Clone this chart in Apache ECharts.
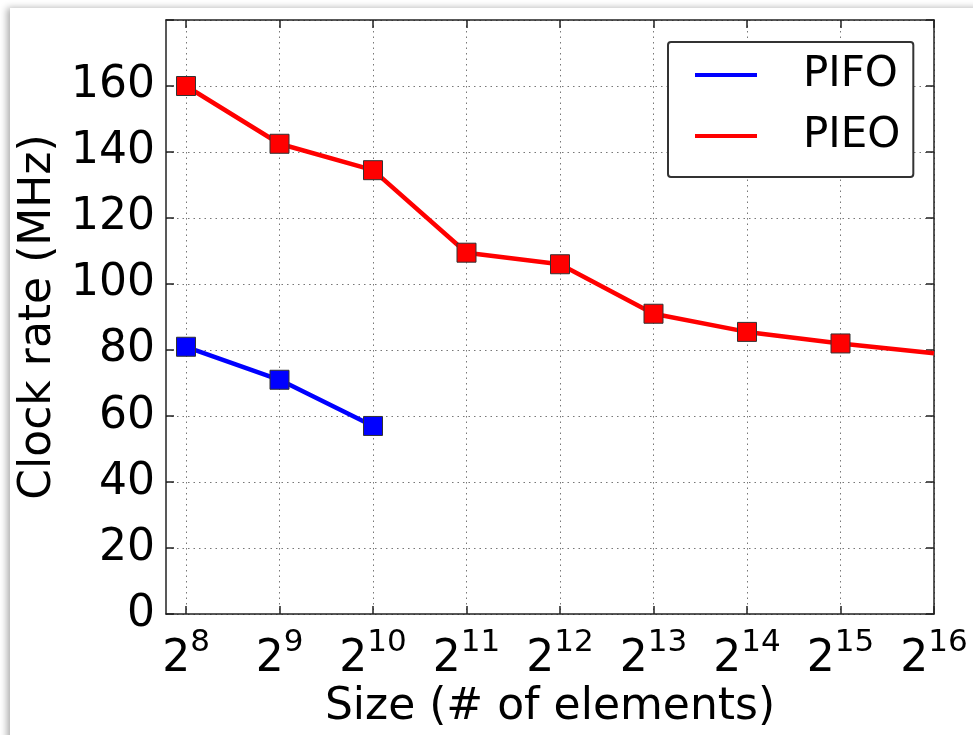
<!DOCTYPE html>
<html>
<head>
<meta charset="utf-8">
<script src="https://cdn.jsdelivr.net/npm/echarts@6/dist/echarts.min.js"></script>
<style>
  html, body { margin: 0; padding: 0; background: #ffffff; width: 973px; height: 735px; overflow: hidden; }
  #card { position: absolute; left: 10px; top: 8px; width: 1100px; height: 900px; background: #ffffff;
          box-shadow: -3px 0px 7px rgba(0,0,0,0.32); }
  #main { position: absolute; left: 0; top: 0; width: 973px; height: 735px; }
</style>
</head>
<body>
<div id="card"></div>
<div id="main"></div>
<script>
// ---- data ----
const exponents = [8, 9, 10, 11, 12, 13, 14, 15, 16];   // x = log2(size)
const pifoValues = [81, 71, 57];                          // PIFO clock rate (MHz) at 2^8..2^10
const pieoValues = [160, 142.5, 134.5, 109.5, 106, 91, 85.5, 82, 79]; // PIEO at 2^8..2^16
const yTicks = [0, 20, 40, 60, 80, 100, 120, 140, 160];
const seriesNames = ['PIFO', 'PIEO'];

const FONT = 'DejaVu Sans';
const pifoData = pifoValues.map((v, i) => [exponents[i], v]);
const pieoData = pieoValues.map((v, i) => {
  const item = { value: [exponents[i], v] };
  if (exponents[i] === 16) item.symbol = 'none';   // point lies on the frame, marker not shown
  return item;
});

const chart = echarts.init(document.getElementById('main'), null, { renderer: 'canvas' });
const frame = '#222222';
const option = {
  animation: false,
  textStyle: { fontFamily: FONT },
  grid: { left: 166, right: 39, top: 20, bottom: 120, containLabel: false },
  legend: {
    orient: 'vertical',
    left: 668, top: 42,
    padding: [8, 13, 16, 27],
    itemGap: 11,
    itemWidth: 62, itemHeight: 4,
    icon: 'rect',
    itemStyle: { borderWidth: 0 },
    backgroundColor: '#ffffff',
    borderColor: '#333333', borderWidth: 2, borderRadius: 3,
    selectedMode: false,
    textStyle: { fontFamily: FONT, fontSize: 42, color: '#000', lineHeight: 50, padding: [0, 0, 0, 41] },
    data: seriesNames
  },
  xAxis: [{
    type: 'value', min: 7.786, max: 16,
    name: 'Size (# of elements)', nameLocation: 'middle', nameGap: 67,
    nameTextStyle: { fontFamily: FONT, fontSize: 44, color: '#000' },
    axisLine: { show: true, onZero: false, lineStyle: { color: frame, width: 1.5 } },
    axisTick: { show: true, inside: true, length: 8, customValues: exponents, lineStyle: { color: frame, width: 1.5 } },
    axisLabel: {
      show: true, margin: 13, customValues: exponents,
      formatter: function (v) { return '{b|2}{s|' + Math.round(v) + '}'; },
      rich: {
        b: { fontFamily: FONT, fontSize: 44, lineHeight: 54, color: '#000', verticalAlign: 'bottom' },
        s: { fontFamily: FONT, fontSize: 31, lineHeight: 20, color: '#000', verticalAlign: 'top' }
      }
    },
    splitLine: { show: true, lineStyle: { color: '#777', width: 1, type: [1.5, 4] } }
  }, {
    type: 'value', min: 7.786, max: 16, position: 'top',
    axisLine: { show: true, onZero: false, lineStyle: { color: frame, width: 1.5 } },
    axisTick: { show: true, inside: true, length: 8, customValues: exponents, lineStyle: { color: frame, width: 1.5 } },
    axisLabel: { show: false },
    splitLine: { show: false }
  }],
  yAxis: [{
    type: 'value', min: 0, max: 180, interval: 20,
    name: 'Clock rate (MHz)', nameLocation: 'middle', nameGap: 96,
    nameTextStyle: { fontFamily: FONT, fontSize: 44, color: '#000' },
    axisLine: { show: true, onZero: false, lineStyle: { color: frame, width: 1.5 } },
    axisTick: { show: true, inside: true, length: 8, lineStyle: { color: frame, width: 1.5 } },
    axisLabel: {
      show: true, margin: 11, fontFamily: FONT, fontSize: 44, color: '#000',
      formatter: function (v) { return yTicks.indexOf(v) >= 0 ? String(v) : ''; }
    },
    splitLine: { show: true, lineStyle: { color: '#777', width: 1, type: [1.5, 4] } }
  }, {
    type: 'value', min: 0, max: 180, interval: 20, position: 'right',
    axisLine: { show: true, onZero: false, lineStyle: { color: frame, width: 1.5 } },
    axisTick: { show: true, inside: true, length: 8, lineStyle: { color: frame, width: 1.5 } },
    axisLabel: { show: false },
    splitLine: { show: false }
  }],
  series: [{
    name: seriesNames[0], type: 'line', xAxisIndex: 0, yAxisIndex: 0,
    data: pifoData, clip: true,
    symbol: 'rect', symbolSize: 19, showSymbol: true,
    lineStyle: { color: '#0000ff', width: 4.5 },
    itemStyle: { color: '#0000ff', borderColor: '#333', borderWidth: 1 },
    emphasis: { disabled: true }, z: 3
  }, {
    name: seriesNames[1], type: 'line', xAxisIndex: 0, yAxisIndex: 0,
    data: pieoData, clip: true,
    symbol: 'rect', symbolSize: 19, showSymbol: true,
    lineStyle: { color: '#ff0000', width: 4.5 },
    itemStyle: { color: '#ff0000', borderColor: '#333', borderWidth: 1 },
    emphasis: { disabled: true }, z: 4
  }]
};
chart.setOption(option);
</script>
</body>
</html>
